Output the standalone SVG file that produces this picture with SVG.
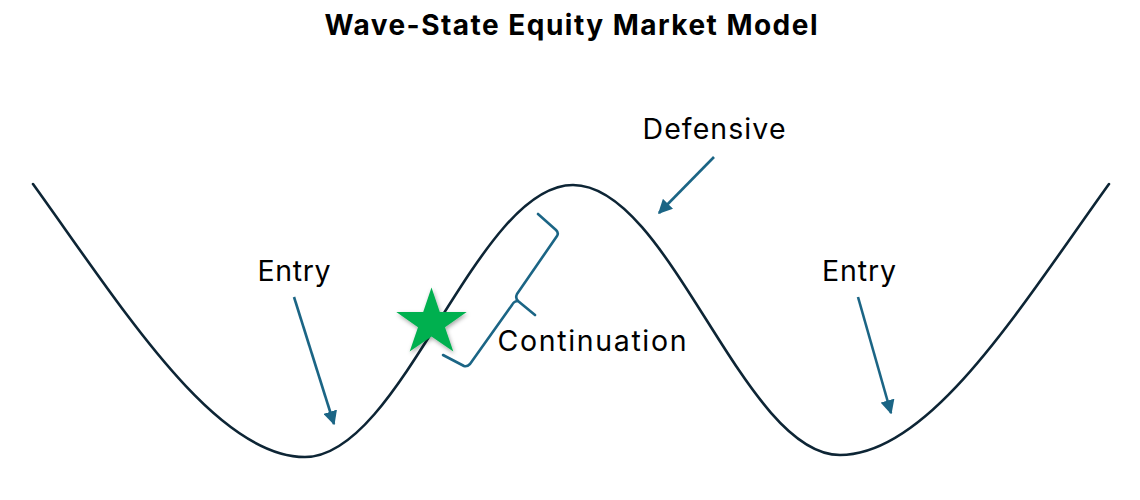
<svg xmlns="http://www.w3.org/2000/svg" width="1140" height="500" viewBox="0 0 1140 500">
<style>
.lbl{font-family:Inter,"Liberation Sans",Arial,sans-serif;font-size:28.5px;fill:#000;text-anchor:middle}
.title{font-family:Inter,"Liberation Sans",Arial,sans-serif;font-size:28px;font-weight:bold;fill:#000;text-anchor:middle}
.wave{fill:none;stroke:#0d2535;stroke-width:2.6;stroke-linecap:round}
.arr{fill:none;stroke:#1b6585;stroke-width:2.6;marker-end:url(#ah)}
.brace{fill:none;stroke:#1b6585;stroke-width:2.6;stroke-linejoin:round;stroke-linecap:round}
</style>
<defs>
<marker id="ah" viewBox="0 0 10 10" refX="9" refY="5" markerWidth="5.5" markerHeight="5.5" orient="auto" markerUnits="strokeWidth">
<path d="M0,0 L10,5 L0,10 z" fill="#1b6585"/>
</marker>
<filter id="sh" x="-30%" y="-30%" width="160%" height="160%">
<feDropShadow dx="1" dy="2" stdDeviation="2" flood-color="#000" flood-opacity="0.35"/>
</filter>
</defs>
<rect width="1140" height="500" fill="#fff"/>
<g id="title"><text class="title" x="571" y="35" textLength="493">Wave-State Equity Market Model</text></g>
<g id="wave">
<path class="wave" d="M33,184 C123,309 215,457 305,457 C402,457 476,185 573,185 C670,185 743,455 840,455 C930,455 1019,309 1109,184"/>
</g>
<g id="connectors">
<line class="arr" x1="294" y1="297" x2="334" y2="424"/>
<line class="arr" x1="858" y1="297" x2="891" y2="413"/>
<line class="arr" x1="714" y1="157" x2="659" y2="213"/>
</g>
<g id="brace">
<path class="brace" d="M538,214 L556,230 Q559,233 557,236 L517,294 Q515,298 518,301 L535,315 M518,301 Q514,301 512,305 L470,364 Q467,367 464,366 L443,355"/>
</g>
<g id="star">
<polygon filter="url(#sh)" fill="#00b050" points="431.5,287.6 439.8,312.1 466.7,312.1 445,327.2 453.3,351.6 431.5,336.5 409.7,351.6 418,327.2 396.3,312.1 423.2,312.1"/>
</g>
<g id="entry-left"><text class="lbl" x="294" y="281" textLength="73">Entry</text></g>
<g id="entry-right"><text class="lbl" x="859" y="281" textLength="74">Entry</text></g>
<g id="defensive"><text class="lbl" x="714" y="139" textLength="143">Defensive</text></g>
<g id="continuation"><text class="lbl" x="592" y="351" textLength="189">Continuation</text></g>
</svg>
